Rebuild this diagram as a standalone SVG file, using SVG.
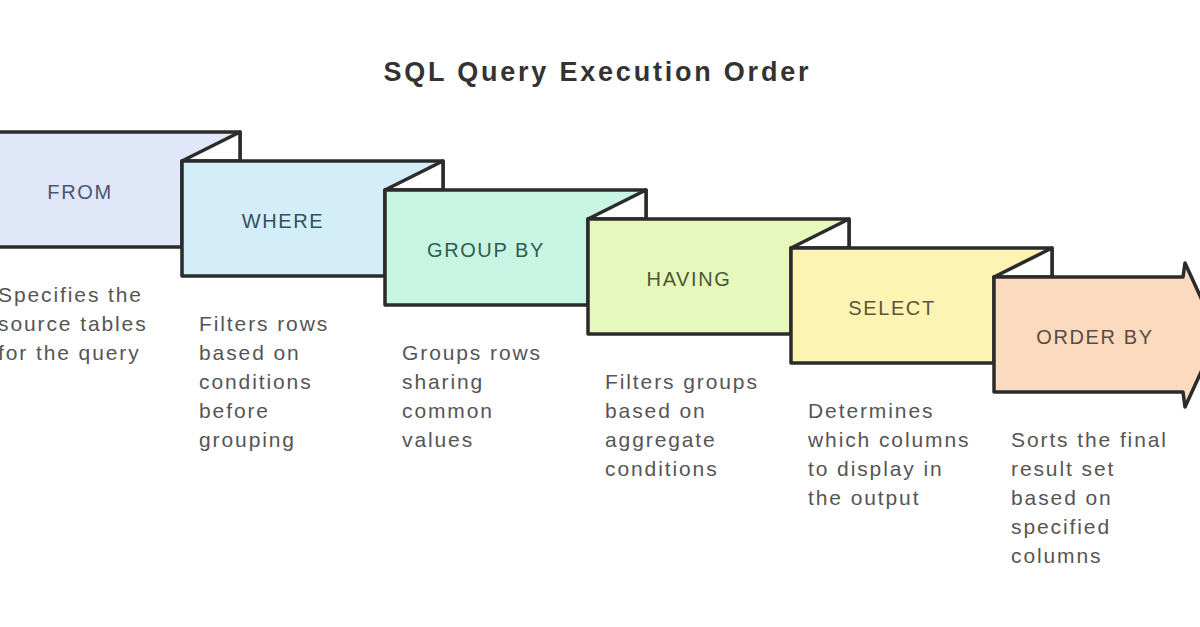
<svg xmlns="http://www.w3.org/2000/svg" width="1200" height="627" viewBox="0 0 1200 627">
<style>
.box{stroke:#2b2b2b;stroke-width:3.5;stroke-linejoin:round}
.flap{fill:#ffffff;stroke:#2b2b2b;stroke-width:3.5;stroke-linejoin:round}
.lbl{font-family:"Liberation Sans",Arial,sans-serif;font-size:20px;letter-spacing:1.6px;text-anchor:middle}
.desc{font-family:"Liberation Sans",Arial,sans-serif;font-size:21px;letter-spacing:1.9px;fill:#555555}
.title{font-family:"Liberation Sans",Arial,sans-serif;font-size:27px;font-weight:bold;fill:#333333;text-anchor:middle}
</style>
<rect width="1200" height="627" fill="#ffffff"/>
<text class="title" x="596" y="81" textLength="425">SQL Query Execution Order</text>

<g id="node-from">
<path class="box" fill="#dfe7f8" d="M-21,132 H240 V161 H182 V247 H-21 Z"/>
<path class="flap" d="M240,132 L182,161 H240 Z"/>
<text class="lbl" x="80" y="199" fill="#4a5670">FROM</text>
<text class="desc"><tspan x="-2" y="302">Specifies the</tspan><tspan x="-2" y="331">source tables</tspan><tspan x="-2" y="360">for the query</tspan></text>
</g>

<g id="node-where">
<path class="box" fill="#d3eef8" d="M182,161 H443 V190 H385 V276 H182 Z"/>
<path class="flap" d="M443,161 L385,190 H443 Z"/>
<text class="lbl" x="283" y="228" fill="#34505e">WHERE</text>
<text class="desc"><tspan x="199" y="331">Filters rows</tspan><tspan x="199" y="360">based on</tspan><tspan x="199" y="389">conditions</tspan><tspan x="199" y="418">before</tspan><tspan x="199" y="447">grouping</tspan></text>
</g>

<g id="node-groupby">
<path class="box" fill="#c8f5e3" d="M385,190 H646 V219 H588 V305 H385 Z"/>
<path class="flap" d="M646,190 L588,219 H646 Z"/>
<text class="lbl" x="486" y="257" fill="#335a4c">GROUP BY</text>
<text class="desc"><tspan x="402" y="360">Groups rows</tspan><tspan x="402" y="389">sharing</tspan><tspan x="402" y="418">common</tspan><tspan x="402" y="447">values</tspan></text>
</g>

<g id="node-having">
<path class="box" fill="#e7f8bd" d="M588,219 H849 V248 H791 V334 H588 Z"/>
<path class="flap" d="M849,219 L791,248 H849 Z"/>
<text class="lbl" x="689" y="286" fill="#4a5830">HAVING</text>
<text class="desc"><tspan x="605" y="389">Filters groups</tspan><tspan x="605" y="418">based on</tspan><tspan x="605" y="447">aggregate</tspan><tspan x="605" y="476">conditions</tspan></text>
</g>

<g id="node-select">
<path class="box" fill="#fdf4b4" d="M791,248 H1052 V277 H994 V363 H791 Z"/>
<path class="flap" d="M1052,248 L994,277 H1052 Z"/>
<text class="lbl" x="892" y="315" fill="#5a5534">SELECT</text>
<text class="desc"><tspan x="808" y="418">Determines</tspan><tspan x="808" y="447">which columns</tspan><tspan x="808" y="476">to display in</tspan><tspan x="808" y="505">the output</tspan></text>
</g>

<g id="node-orderby">
<path class="box" fill="#fbdac0" d="M994,277 H1183 L1185,263 L1218,335 L1185,407 L1183,392 H994 Z"/>
<text class="lbl" x="1095" y="344" fill="#5a4c42">ORDER BY</text>
<text class="desc"><tspan x="1011" y="447">Sorts the final</tspan><tspan x="1011" y="476">result set</tspan><tspan x="1011" y="505">based on</tspan><tspan x="1011" y="534">specified</tspan><tspan x="1011" y="563">columns</tspan></text>
</g>
</svg>
